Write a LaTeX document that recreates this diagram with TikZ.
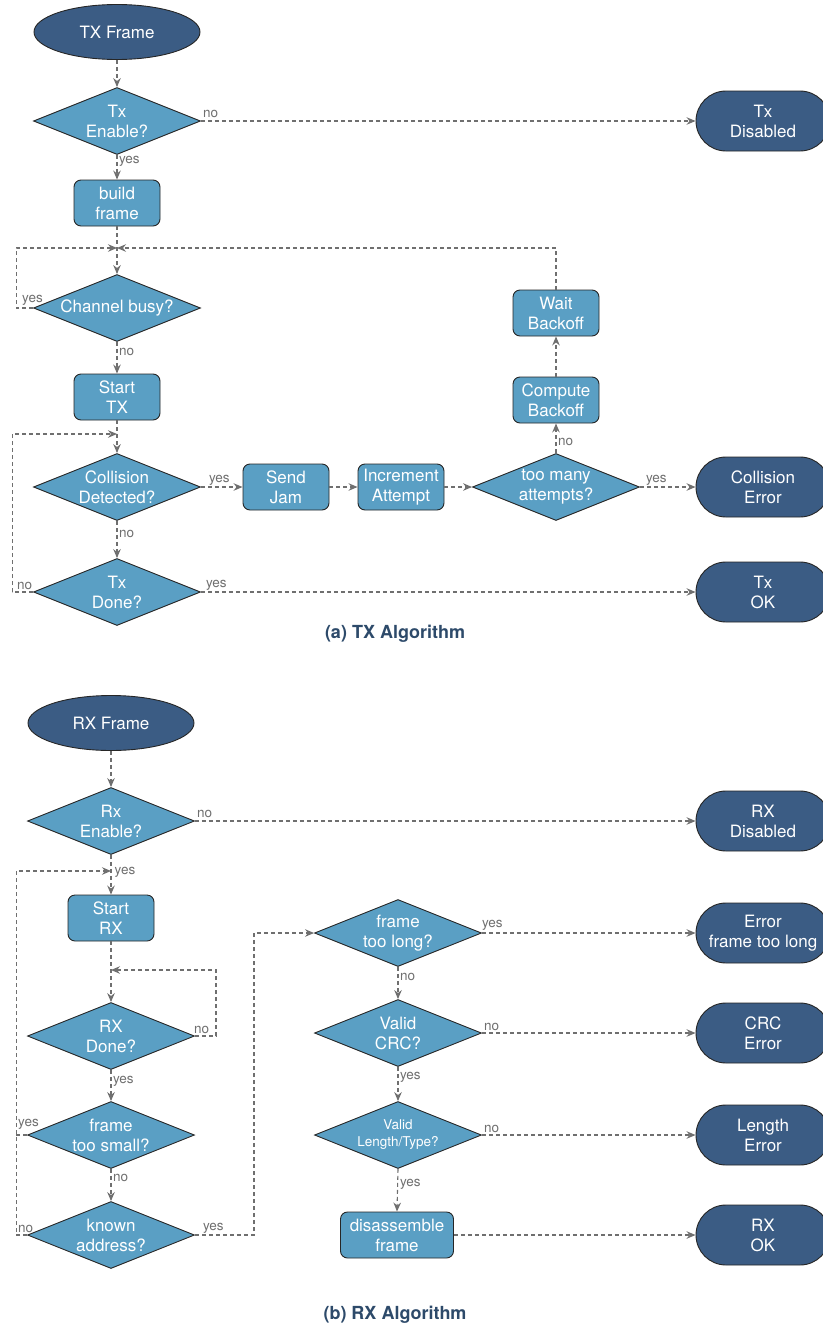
\documentclass[tikz,border=0pt]{standalone}
\usepackage{fontspec}
\setmainfont{TeX Gyre Heros}
\usetikzlibrary{shapes.geometric,arrows.meta}

\definecolor{stepblue}{HTML}{5A9FC4}
\definecolor{termblue}{HTML}{3B5C84}
\definecolor{linegray}{HTML}{6F6F6F}
\definecolor{capblue}{HTML}{2D4A6A}

\tikzset{
  base/.style={draw=black!85, line width=0.9pt, text=white,
    font=\fontsize{17}{20}\selectfont, align=center, inner sep=0pt},
  terminal/.style={base, fill=termblue, rectangle, rounded corners=30pt,
    minimum width=134pt, minimum height=60pt},
  startnode/.style={base, fill=termblue, ellipse,
    minimum width=166pt, minimum height=55pt},
  stepbox/.style={base, fill=stepblue, rectangle, rounded corners=7pt,
    minimum width=86pt, minimum height=46pt},
  decision/.style={base, fill=stepblue, diamond,
    minimum width=167pt, minimum height=67pt},
  dtext/.style={text=white, font=\fontsize{17}{20}\selectfont,
    align=center, inner sep=0pt},
  dsmall/.style={dtext, font=\fontsize{13.5}{17}\selectfont},
  edge/.style={draw=linegray, line width=1.1pt, dash pattern=on 4pt off 3pt,
    -{Stealth[length=9pt,width=7.5pt,inset=3pt]}},
  plainedge/.style={edge, -},
  lbl/.style={text=linegray, font=\fontsize{13.5}{15}\selectfont, inner sep=1.5pt},
  caption/.style={text=capblue, font=\fontsize{18}{20}\selectfont\bfseries}
}

\begin{document}
\begin{tikzpicture}[x=1pt,y=-1pt]
\useasboundingbox (0,0) rectangle (822,1325);

% ---------------- TX algorithm ----------------
\node[startnode] (tf) at (117,32) {TX Frame};
\node[decision, label={[dtext]center:{Tx\\Enable?}}] (en) at (117,121) {};
\node[terminal] (txdis) at (763,121) {Tx\\Disabled};
\node[stepbox] (bf) at (117,203) {build\\frame};
\node[decision, label={[dtext]center:{Channel busy?}}] (cb) at (117,308) {};
\node[stepbox] (stx) at (117,397) {Start\\TX};
\node[decision, label={[dtext]center:{Collision\\Detected?}}] (cd) at (117,487) {};
\node[stepbox] (sj) at (286,487) {Send\\Jam};
\node[stepbox] (ia) at (401,487) {Increment\\Attempt};
\node[decision, label={[dtext]center:{too many\\attempts?}}] (tm) at (556,487) {};
\node[stepbox] (cbo) at (556,400) {Compute\\Backoff};
\node[stepbox] (wb) at (556,313) {Wait\\Backoff};
\node[terminal] (ce) at (763,487) {Collision\\Error};
\node[decision, label={[dtext]center:{Tx\\Done?}}] (td) at (117,592) {};
\node[terminal] (tok) at (763,592) {Tx\\OK};
\node[caption] (capa) at (395,634) {(a) TX Algorithm};

\coordinate (m1) at (117,248);
\coordinate (m2) at (117,434);

\draw[edge] (tf.south) -- (en.north);
\draw[edge] (en.east) node[lbl,anchor=south west,yshift=1pt]{no} -- (txdis.west);
\draw[edge] (en.south) node[lbl,anchor=west,yshift=-6pt]{yes} -- (bf.north);
\draw[edge] (bf.south) -- (cb.north);
\draw[edge] (cb.west) node[lbl,anchor=south west,xshift=-13pt,yshift=1pt]{yes}
  -- ++(-17,0) |- (m1);
\draw[edge] (wb.north) |- (m1);
\draw[edge] (cb.south) node[lbl,anchor=west,yshift=-10pt]{no} -- (stx.north);
\draw[edge] (stx.south) -- (cd.north);
\draw[edge] (td.west) node[lbl,anchor=south west,xshift=-18pt]{no}
  -- ++(-21,0) |- (m2);
\draw[edge] (cd.east) node[lbl,anchor=south west,xshift=6pt]{yes} -- (sj.west);
\draw[edge] (sj.east) -- (ia.west);
\draw[edge] (ia.east) -- (tm.west);
\draw[edge] (tm.north) node[lbl,anchor=west,yshift=11pt]{no} -- (cbo.south);
\draw[edge] (cbo.north) -- (wb.south);
\draw[edge] (tm.east) node[lbl,anchor=south west,xshift=4pt]{yes} -- (ce.west);
\draw[edge] (cd.south) node[lbl,anchor=west,yshift=-13pt]{no} -- (td.north);
\draw[edge] (td.east) node[lbl,anchor=south west,xshift=3pt]{yes} -- (tok.west);

% ---------------- RX algorithm ----------------
\node[startnode] (rf) at (111,723) {RX Frame};
\node[decision, label={[dtext]center:{Rx\\Enable?}}] (re) at (111,821) {};
\node[terminal] (rdis) at (763,821) {RX\\Disabled};
\node[stepbox] (srx) at (111,918) {Start\\RX};
\node[decision, label={[dtext]center:{RX\\Done?}}] (rd) at (111,1036) {};
\node[decision, label={[dtext]center:{frame\\too small?}}] (fs) at (111,1135) {};
\node[decision, label={[dtext]center:{known\\address?}}] (ka) at (111,1235) {};
\node[decision, label={[dtext]center:{frame\\too long?}}] (ftl) at (398,933) {};
\node[decision, label={[dtext]center:{Valid\\CRC?}}] (crc) at (398,1033) {};
\node[decision, label={[dsmall]center:{Valid\\Length/Type?}}] (vlt) at (398,1135) {};
\node[stepbox, minimum width=113pt] (dfr) at (397,1235) {disassemble\\frame};
\node[terminal] (eftl) at (763,933) {Error\\frame too long};
\node[terminal] (crce) at (763,1033) {CRC\\Error};
\node[terminal] (lene) at (763,1135) {Length\\Error};
\node[terminal] (rok) at (763,1235) {RX\\OK};
\node[caption] (capb) at (395,1315) {(b) RX Algorithm};

\coordinate (m3) at (111,871);
\coordinate (m4) at (111,970);

\draw[edge] (rf.south) -- (re.north);
\draw[edge] (re.east) node[lbl,anchor=south west,yshift=1pt]{no} -- (rdis.west);
\draw[edge] (re.south) -- (srx.north);
\node[lbl,anchor=west] (lm3) at (113,872) {yes};
\draw[edge] (ka.west) node[lbl,anchor=south west,xshift=-11pt]{no}
  -- ++(-11,0) |- (m3);
\draw[plainedge] (fs.west) node[lbl,anchor=south west,xshift=-11pt,yshift=4pt]{yes}
  -- ++(-11,0);
\draw[edge] (srx.south) -- (rd.north);
\draw[edge] (rd.east) node[lbl,anchor=south west,xshift=-3pt]{no}
  -- ++(21,0) |- (m4);
\draw[edge] (rd.south) node[lbl,anchor=west,yshift=-11pt]{yes} -- (fs.north);
\draw[edge] (fs.south) node[lbl,anchor=west,yshift=-9pt]{no} -- (ka.north);
\draw[edge] (ka.east) node[lbl,anchor=south west,xshift=6pt]{yes}
  -- ++(59,0) |- (ftl.west);
\draw[edge] (ftl.east) node[lbl,anchor=south west,xshift=-2pt,yshift=1pt]{yes} -- (eftl.west);
\draw[edge] (ftl.south) node[lbl,anchor=west,yshift=-10pt]{no} -- (crc.north);
\draw[edge] (crc.east) node[lbl,anchor=south west]{no} -- (crce.west);
\draw[edge] (crc.south) node[lbl,anchor=west,yshift=-10pt]{yes} -- (vlt.north);
\draw[edge] (vlt.east) node[lbl,anchor=south west]{no} -- (lene.west);
\draw[edge] (vlt.south) node[lbl,anchor=west,yshift=-15pt]{yes} -- (dfr.north);
\draw[edge] (dfr.east) -- (rok.west);
\end{tikzpicture}
\end{document}
